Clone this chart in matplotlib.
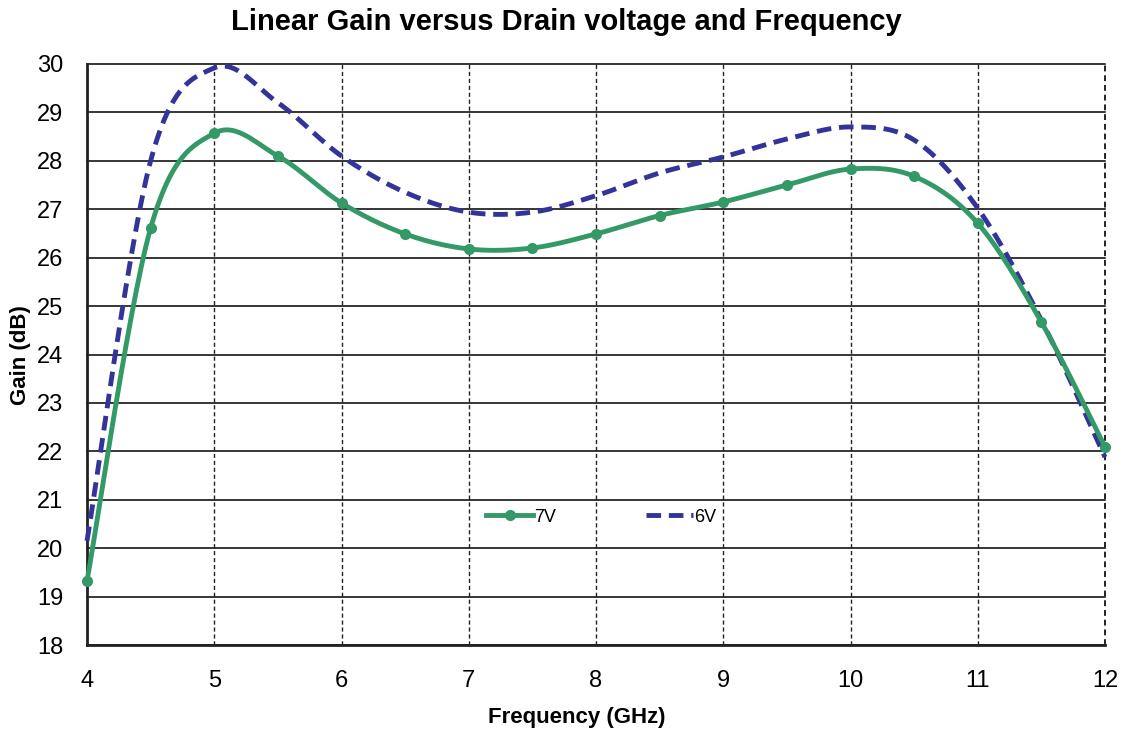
import numpy as np
import matplotlib
matplotlib.use("Agg")
import matplotlib.pyplot as plt

freq = [4, 4.5, 5, 5.5, 6, 6.5, 7, 7.5, 8, 8.5, 9, 9.5, 10, 10.5, 11, 11.5, 12]
gain_7v = [19.32, 26.61, 28.57, 28.10, 27.13, 26.49, 26.18, 26.20, 26.49, 26.87,
           27.15, 27.50, 27.83, 27.68, 26.71, 24.67, 22.09]
gain_6v = [20.15, 28.00, 29.92, 29.20, 28.10, 27.35, 26.94, 26.94, 27.28, 27.75,
           28.08, 28.45, 28.70, 28.43, 27.02, 24.71, 21.88]
xticks = list(range(4, 13))
yticks = list(range(18, 31))

plt.rcParams['font.family'] = ['Liberation Sans', 'DejaVu Sans']

GREEN = '#339966'
BLUE = '#333399'


def smooth(xs, ys, n=30, xr=8.0, yr=12.0):
    # Catmull-Rom (Excel-like) smoothing in normalized space
    p = np.column_stack([np.asarray(xs) / xr, np.asarray(ys) / yr])
    pts = np.vstack([p[0], p, p[-1]])
    out = []
    for i in range(1, len(pts) - 2):
        p0, p1, p2, p3 = pts[i - 1], pts[i], pts[i + 1], pts[i + 2]
        c1 = p1 + (p2 - p0) / 6.0
        c2 = p2 - (p3 - p1) / 6.0
        t = np.linspace(0, 1, n)[:, None]
        seg = ((1 - t) ** 3) * p1 + 3 * ((1 - t) ** 2) * t * c1 + 3 * (1 - t) * t ** 2 * c2 + t ** 3 * p2
        out.append(seg if i == 1 else seg[1:])
    out = np.vstack(out)
    return out[:, 0] * xr, out[:, 1] * yr


W, H = 1125, 733
fig = plt.figure(figsize=(W / 100, H / 100), dpi=100)
ax = fig.add_axes([87 / W, 1 - 645 / H, 1018 / W, 581 / H])

sx, sy = smooth(freq, gain_6v)
ax.plot(sx, sy, color=BLUE, lw=3.5, ls=(0, (3, 1.6)), zorder=3, clip_on=False)
sx, sy = smooth(freq, gain_7v)
ax.plot(sx, sy, color=GREEN, lw=3.5, zorder=4, clip_on=False)
ax.plot(freq, gain_7v, 'o', color=GREEN, ms=7, zorder=5, clip_on=False)

# legend proxies
ax.plot([], [], color=GREEN, lw=3.5, marker='o', ms=7, label='7V')
ax.plot([], [], color=BLUE, lw=3.5, ls=(0, (3, 1.6)), label='6V')
h, l = ax.get_legend_handles_labels()
leg = ax.legend(h, l, ncol=2, loc='center', bbox_to_anchor=(0.505, 0.22), frameon=False,
                fontsize=13, handlelength=2.6, handletextpad=0.05, columnspacing=5.0)

ax.set_xlim(4, 12)
ax.set_ylim(18, 30)
ax.set_xticks(xticks)
ax.set_yticks(yticks)
ax.tick_params(axis='both', length=0, labelsize=17)
ax.tick_params(axis='x', pad=18)
ax.tick_params(axis='y', pad=17)

for yv in yticks:
    ax.axhline(yv, color='black', lw=1.1, zorder=1, clip_on=False)
for xv in xticks[1:]:
    ax.axvline(xv, color='#222222', lw=1.4 if xv == 12 else 1.0, ls=(0, (3, 2)), zorder=1, clip_on=False)

for s in ['top', 'right']:
    ax.spines[s].set_visible(False)
ax.spines['left'].set_linewidth(2)
ax.spines['bottom'].set_linewidth(2)
ax.spines['left'].set_color('#222222')
ax.spines['bottom'].set_color('#222222')

fig.text(577 / W, 1 - 718 / H, 'Frequency (GHz)', fontsize=16, fontweight='bold',
         ha='center', va='center')
fig.text(21 / W, 1 - 355 / H, 'Gain (dB)', fontsize=16, fontweight='bold',
         ha='center', va='center', rotation=90)
fig.text(566 / W, 1 - 22 / H, 'Linear Gain versus Drain voltage and Frequency', fontsize=21,
         fontweight='bold', ha='center', va='center')

fig.savefig('out.png', dpi=100)
